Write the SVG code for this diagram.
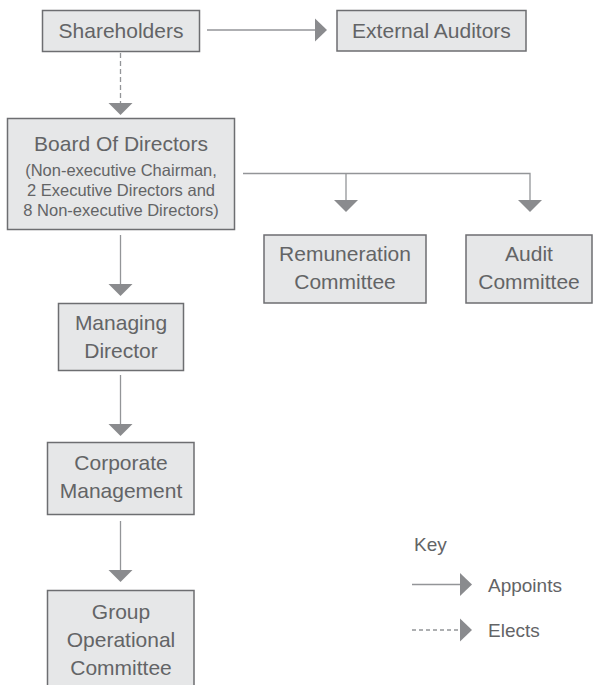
<svg xmlns="http://www.w3.org/2000/svg" width="593" height="685" viewBox="0 0 593 685">
<defs>
<style>
.box{fill:#e6e7e8;stroke:#6d6e71;stroke-width:1.5}
.t{font-family:"Liberation Sans",Arial,sans-serif;font-size:21px;fill:#636466;text-anchor:middle}
.s{font-family:"Liberation Sans",Arial,sans-serif;font-size:16.5px;fill:#636466;text-anchor:middle}
.k{font-family:"Liberation Sans",Arial,sans-serif;font-size:19px;fill:#636466}
.ln{fill:none;stroke:#939598;stroke-width:1.3}
.dash{stroke-dasharray:5 3}
.ah{fill:#8a8b8e}
</style>
</defs>
<rect width="593" height="685" fill="#ffffff"/>
<g id="connectors">
<line class="ln" x1="207" y1="30" x2="316" y2="30"/>
<polygon class="ah" points="315,18.5 327,30 315,41.5"/>
<line class="ln dash" x1="120.5" y1="53" x2="120.5" y2="104"/>
<polygon class="ah" points="108.5,103 132.5,103 120.5,115"/>
<polyline class="ln" points="243,173.5 530,173.5 530,201"/>
<line class="ln" x1="346" y1="173.5" x2="346" y2="201"/>
<polygon class="ah" points="334,200 358,200 346,212"/>
<polygon class="ah" points="518,200 542,200 530,212"/>
<line class="ln" x1="120.5" y1="235" x2="120.5" y2="285"/>
<polygon class="ah" points="108.5,284 132.5,284 120.5,296"/>
<line class="ln" x1="120.5" y1="375" x2="120.5" y2="425"/>
<polygon class="ah" points="108.5,424 132.5,424 120.5,436"/>
<line class="ln" x1="120.5" y1="521" x2="120.5" y2="571"/>
<polygon class="ah" points="108.5,570 132.5,570 120.5,582"/>
</g>
<g id="shareholders">
<rect class="box" x="42.5" y="10.5" width="157" height="41"/>
<text class="t" x="121" y="38">Shareholders</text>
</g>
<g id="external-auditors">
<rect class="box" x="337" y="10.5" width="189" height="40.5"/>
<text class="t" x="431.5" y="38">External Auditors</text>
</g>
<g id="board">
<rect class="box" x="7.5" y="118.5" width="227" height="111"/>
<text class="t" x="121" y="150.5">Board Of Directors</text>
<text class="s" x="121" y="176">(Non-executive Chairman,</text>
<text class="s" x="121" y="196">2 Executive Directors and</text>
<text class="s" x="121" y="215.5">8 Non-executive Directors)</text>
</g>
<g id="remuneration">
<rect class="box" x="264" y="235" width="162" height="68"/>
<text class="t" x="345" y="261">Remuneration</text>
<text class="t" x="345" y="288.5">Committee</text>
</g>
<g id="audit">
<rect class="box" x="466" y="235" width="126" height="68"/>
<text class="t" x="529" y="261">Audit</text>
<text class="t" x="529" y="288.5">Committee</text>
</g>
<g id="managing-director">
<rect class="box" x="58.5" y="303.5" width="125" height="67"/>
<text class="t" x="121" y="330">Managing</text>
<text class="t" x="121" y="358">Director</text>
</g>
<g id="corporate-management">
<rect class="box" x="47.5" y="442.5" width="146.5" height="72"/>
<text class="t" x="121" y="469.5">Corporate</text>
<text class="t" x="121" y="497.5">Management</text>
</g>
<g id="group-operational-committee">
<rect class="box" x="47.5" y="590.5" width="146.5" height="100"/>
<text class="t" x="121" y="618.5">Group</text>
<text class="t" x="121" y="646.5">Operational</text>
<text class="t" x="121" y="675">Committee</text>
</g>
<g id="legend">
<text class="k" x="414" y="551">Key</text>
<line class="ln" x1="412" y1="584.5" x2="461" y2="584.5"/>
<polygon class="ah" points="460,573 472,584.5 460,596"/>
<text class="k" x="488" y="591.5">Appoints</text>
<line class="ln" x1="412" y1="630" x2="461" y2="630" stroke-dasharray="4 3"/>
<polygon class="ah" points="460,618.5 472,630 460,641.5"/>
<text class="k" x="488" y="637">Elects</text>
</g>
</svg>
